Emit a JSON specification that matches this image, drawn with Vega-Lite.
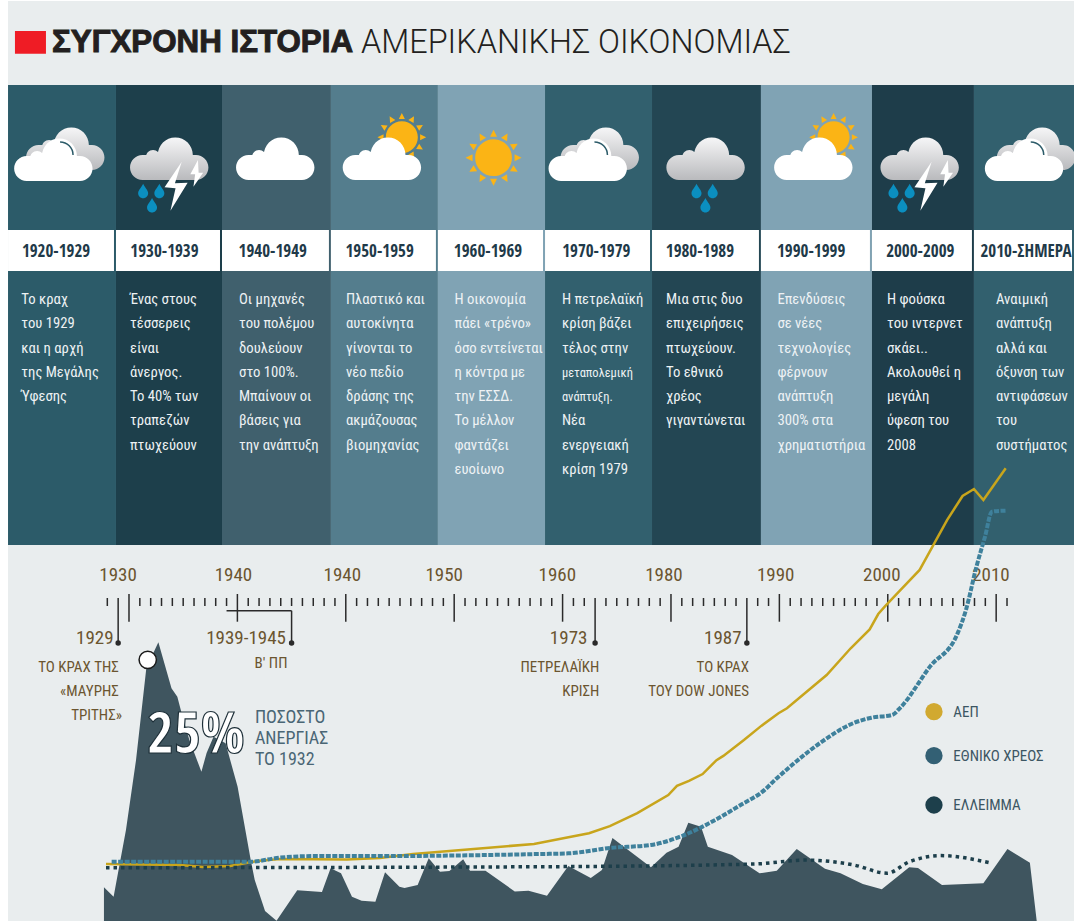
{
"$schema":"https://vega.github.io/schema/vega-lite/v6.json",
"width":1074,"height":921,"padding":0,"autosize":{"type":"none"},"background":"#ffffff",
"config":{"view":{"stroke":null},"axis":{"disable":true},"legend":{"disable":true},"text":{"font":"Roboto Condensed"}},
"resolve":{"scale":{"y":"independent","fill":"independent","color":"independent"}},
"datasets":{
"panels":[
{"from":1918.84,"to":1928.8,"label":"1920-1929","mid":1923.27,"d":"a"},
{"from":1928.8,"to":1938.58,"label":"1930-1939","mid":1933.27,"d":"b"},
{"from":1938.58,"to":1948.63,"label":"1940-1949","mid":1943.26,"d":"c"},
{"from":1948.63,"to":1958.5,"label":"1950-1959","mid":1953.12,"d":"e"},
{"from":1958.5,"to":1968.38,"label":"1960-1969","mid":1963.12,"d":"f"},
{"from":1968.38,"to":1978.25,"label":"1970-1979","mid":1973.11,"d":"g"},
{"from":1978.25,"to":1988.3,"label":"1980-1989","mid":1982.67,"d":"h"},
{"from":1988.3,"to":1998.54,"label":"1990-1999","mid":1992.93,"d":"i"},
{"from":1998.54,"to":2007.95,"label":"2000-2009","mid":2003.0,"d":"j"},
{"from":2007.95,"to":2017.18,"label":"2010-ΣΗΜΕΡΑ","mid":2012.75,"d":"k"}],
"notes":[
{"year":1920.07,"line":0,"t":"Το κραχ"},{"year":1920.07,"line":1,"t":"του 1929"},{"year":1920.07,"line":2,"t":"και η αρχή"},{"year":1920.07,"line":3,"t":"της Μεγάλης"},{"year":1920.07,"line":4,"t":"Ύφεσης"},
{"year":1930.09,"line":0,"t":"Ένας στους"},{"year":1930.09,"line":1,"t":"τέσσερεις"},{"year":1930.09,"line":2,"t":"είναι"},{"year":1930.09,"line":3,"t":"άνεργος."},{"year":1930.09,"line":4,"t":" Το 40% των"},{"year":1930.09,"line":5,"t":"τραπεζών"},{"year":1930.09,"line":6,"t":"πτωχεύουν"},
{"year":1940.15,"line":0,"t":"Οι μηχανές"},{"year":1940.15,"line":1,"t":"του πολέμου"},{"year":1940.15,"line":2,"t":"δουλεύουν"},{"year":1940.15,"line":3,"t":"στο 100%."},{"year":1940.15,"line":4,"t":"Μπαίνουν οι"},{"year":1940.15,"line":5,"t":"βάσεις για"},{"year":1940.15,"line":6,"t":"την ανάπτυξη"},
{"year":1950.02,"line":0,"t":"Πλαστικό και"},{"year":1950.02,"line":1,"t":"αυτοκίνητα"},{"year":1950.02,"line":2,"t":"γίνονται το"},{"year":1950.02,"line":3,"t":"νέο πεδίο"},{"year":1950.02,"line":4,"t":"δράσης της"},{"year":1950.02,"line":5,"t":"ακμάζουσας"},{"year":1950.02,"line":6,"t":"βιομηχανίας"},
{"year":1960.03,"line":0,"t":"Η οικονομία"},{"year":1960.03,"line":1,"t":"πάει «τρένο»"},{"year":1960.03,"line":2,"t":"όσο εντείνεται"},{"year":1960.03,"line":3,"t":"η κόντρα με"},{"year":1960.03,"line":4,"t":"την ΕΣΣΔ."},{"year":1960.03,"line":5,"t":"Το μέλλον"},{"year":1960.03,"line":6,"t":"φαντάζει"},{"year":1960.03,"line":7,"t":"ευοίωνο"},
{"year":1969.94,"line":0,"t":"Η πετρελαϊκή"},{"year":1969.94,"line":1,"t":"κρίση βάζει"},{"year":1969.94,"line":2,"t":"τέλος στην"},{"year":1969.94,"line":3,"t":"μεταπολεμική","small":true},{"year":1969.94,"line":4,"t":"ανάπτυξη.","small":true},{"year":1969.94,"line":5,"t":"Νέα"},{"year":1969.94,"line":6,"t":"ενεργειακή"},{"year":1969.94,"line":7,"t":"κρίση 1979"},
{"year":1979.54,"line":0,"t":"Μια στις δυο"},{"year":1979.54,"line":1,"t":"επιχειρήσεις"},{"year":1979.54,"line":2,"t":"πτωχεύουν."},{"year":1979.54,"line":3,"t":"Το εθνικό"},{"year":1979.54,"line":4,"t":"χρέος"},{"year":1979.54,"line":5,"t":"γιγαντώνεται"},
{"year":1989.82,"line":0,"t":"Επενδύσεις"},{"year":1989.82,"line":1,"t":"σε νέες"},{"year":1989.82,"line":2,"t":"τεχνολογίες"},{"year":1989.82,"line":3,"t":"φέρνουν"},{"year":1989.82,"line":4,"t":"ανάπτυξη"},{"year":1989.82,"line":5,"t":"300% στα"},{"year":1989.82,"line":6,"t":"χρηματιστήρια"},
{"year":1999.93,"line":0,"t":"Η φούσκα"},{"year":1999.93,"line":1,"t":"του ιντερνετ"},{"year":1999.93,"line":2,"t":"σκάει.."},{"year":1999.93,"line":3,"t":"Ακολουθεί η"},{"year":1999.93,"line":4,"t":"μεγάλη"},{"year":1999.93,"line":5,"t":"ύφεση του"},{"year":1999.93,"line":6,"t":"2008"},
{"year":2009.98,"line":0,"t":"Αναιμική"},{"year":2009.98,"line":1,"t":"ανάπτυξη"},{"year":2009.98,"line":2,"t":"αλλά και"},{"year":2009.98,"line":3,"t":"όξυνση των"},{"year":2009.98,"line":4,"t":"αντιφάσεων"},{"year":2009.98,"line":5,"t":"του"},{"year":2009.98,"line":6,"t":"συστήματος"}],
"ticks":[{"year":1928},{"year":1931},{"year":1932},{"year":1933},{"year":1934},{"year":1935},{"year":1936},{"year":1937},{"year":1938},{"year":1939},{"year":1941},{"year":1942},{"year":1943},{"year":1944},{"year":1945},{"year":1946},{"year":1947},{"year":1948},{"year":1949},{"year":1951},{"year":1952},{"year":1953},{"year":1954},{"year":1955},{"year":1956},{"year":1957},{"year":1958},{"year":1959},{"year":1961},{"year":1962},{"year":1963},{"year":1964},{"year":1965},{"year":1966},{"year":1967},{"year":1968},{"year":1969},{"year":1971},{"year":1972},{"year":1974},{"year":1975},{"year":1976},{"year":1977},{"year":1978},{"year":1979},{"year":1981},{"year":1982},{"year":1983},{"year":1984},{"year":1985},{"year":1986},{"year":1988},{"year":1989},{"year":1991},{"year":1992},{"year":1993},{"year":1994},{"year":1995},{"year":1996},{"year":1997},{"year":1998},{"year":1999},{"year":2001},{"year":2002},{"year":2003},{"year":2004},{"year":2005},{"year":2006},{"year":2007},{"year":2008},{"year":2009},{"year":2011}],
"decades":[{"year":1930},{"year":1940},{"year":1950},{"year":1960},{"year":1970},{"year":1980},{"year":1990},{"year":2000},{"year":2010}],
"axisLabels":[{"year":1928.99,"t":"1930"},{"year":1939.64,"t":"1940"},{"year":1949.68,"t":"1940"},{"year":1959.08,"t":"1950"},{"year":1969.52,"t":"1960"},{"year":1979.35,"t":"1980"},{"year":1989.66,"t":"1990"},{"year":1999.45,"t":"2000"},{"year":2009.52,"t":"2010"}],
"eventYears":[{"year":1928.58,"t":"1929"},{"year":1944.48,"t":"1939-1945"},{"year":1972.29,"t":"1973"},{"year":1986.51,"t":"1987"}],
"events":[{"year":1929.06,"line":1,"t":"ΤΟ ΚΡΑΧ ΤΗΣ"},{"year":1929.06,"line":2,"t":"«ΜΑΥΡΗΣ"},{"year":1929.35,"line":3,"t":"ΤΡΙΤΗΣ»"},{"year":1944.62,"line":0.84,"t":"Β' ΠΠ"},{"year":1973.39,"line":1,"t":"ΠΕΤΡΕΛΑΪΚΗ"},{"year":1973.39,"line":2,"t":"ΚΡΙΣΗ"},{"year":1987.2,"line":1,"t":"ΤΟ ΚΡΑΧ"},{"year":1987.2,"line":2,"t":"ΤΟΥ DOW JONES"}],
"rate":[{"year":1927.69,"v":3.02},{"year":1928.58,"v":2.18},{"year":1929.72,"v":8.15},{"year":1930.65,"v":14.43},{"year":1931.6,"v":22.67},{"year":1932.71,"v":24.97},{"year":1933.92,"v":20.85},{"year":1934.46,"v":20.1},{"year":1934.94,"v":18.31},{"year":1935.57,"v":16.22},{"year":1936.68,"v":13.38},{"year":1937.16,"v":15.05},{"year":1937.8,"v":16.51},{"year":1938.91,"v":15.92},{"year":1940.02,"v":12.03},{"year":1941.23,"v":5.47},{"year":1941.6,"v":3.67},{"year":1942.55,"v":0.9},{"year":1943.61,"v":0.03},{"year":1945.52,"v":2.75},{"year":1947.8,"v":2.6},{"year":1948.6,"v":4.72},{"year":1949.56,"v":4.27},{"year":1950.57,"v":2.18},{"year":1951.46,"v":1.82},{"year":1952.73,"v":1.73},{"year":1953.62,"v":4.36},{"year":1954.95,"v":3.07},{"year":1955.42,"v":2.96},{"year":1956.63,"v":3.23},{"year":1957.65,"v":5.62},{"year":1958.69,"v":4.42},{"year":1959.56,"v":4.48},{"year":1960.83,"v":5.53},{"year":1961.46,"v":4.5},{"year":1962.89,"v":4.5},{"year":1965.59,"v":2.65},{"year":1966.86,"v":2.72},{"year":1968.56,"v":2.27},{"year":1970.53,"v":4.93},{"year":1972.6,"v":3.85},{"year":1973.63,"v":4.57},{"year":1974.6,"v":7.44},{"year":1978.15,"v":4.81},{"year":1979.59,"v":6.12},{"year":1980.7,"v":6.66},{"year":1981.6,"v":8.81},{"year":1982.77,"v":8.45},{"year":1983.4,"v":6.66},{"year":1985.63,"v":5.91},{"year":1988.17,"v":4.27},{"year":1989.76,"v":4.51},{"year":1991.6,"v":6.45},{"year":1994.21,"v":4.69},{"year":1995.64,"v":4.27},{"year":1997.7,"v":3.32},{"year":1999.45,"v":2.84},{"year":2001.98,"v":4.81},{"year":2002.79,"v":4.75},{"year":2005,"v":3.23},{"year":2008.82,"v":3.38},{"year":2011.04,"v":6.45},{"year":2013.11,"v":5.22},{"year":2013.74,"v":0}],
"gdp":[{"year":1927.88,"v":0.16},{"year":1934.7,"v":0.12},{"year":1936.83,"v":0.04},{"year":1939.32,"v":0.08},{"year":1941.81,"v":0.28},{"year":1943.93,"v":0.36},{"year":1950.11,"v":0.34},{"year":1953.15,"v":0.4},{"year":1956.2,"v":0.56},{"year":1967.36,"v":0.97},{"year":1970.54,"v":1.24},{"year":1972.44,"v":1.4},{"year":1974.36,"v":1.69},{"year":1976.89,"v":2.21},{"year":1979.75,"v":2.94},{"year":1980.55,"v":3.31},{"year":1981.66,"v":3.51},{"year":1982.92,"v":3.79},{"year":1984.2,"v":4.35},{"year":1984.83,"v":4.52},{"year":1986.73,"v":5.16},{"year":1988.33,"v":5.73},{"year":1989.92,"v":6.24},{"year":1990.7,"v":6.44},{"year":1994.36,"v":7.78},{"year":1996.58,"v":8.86},{"year":1998.33,"v":9.62},{"year":1999.12,"v":10.24},{"year":1999.76,"v":10.56},{"year":2001.03,"v":11.14},{"year":2002.94,"v":12.02},{"year":2004.2,"v":13.02},{"year":2005.47,"v":14.03},{"year":2006.9,"v":15.0},{"year":2007.95,"v":15.28},{"year":2008.82,"v":14.84},{"year":2010.88,"v":16.12}],
"debt":[{"year":1928.4,"v":0.25},{"year":1941.16,"v":0.25},{"year":1943.93,"v":0.42},{"year":1946.97,"v":0.48},{"year":1953.15,"v":0.48},{"year":1967.36,"v":0.56},{"year":1970.5,"v":0.59},{"year":1974.37,"v":0.81},{"year":1978.15,"v":0.93},{"year":1981.01,"v":1.29},{"year":1982.92,"v":1.67},{"year":1986.42,"v":2.54},{"year":1988.64,"v":3.15},{"year":1989.59,"v":3.55},{"year":1991.16,"v":4.15},{"year":1993.75,"v":5.04},{"year":1996.88,"v":5.85},{"year":1998.5,"v":6.06},{"year":2000.39,"v":6.17},{"year":2001.19,"v":6.48},{"year":2003.89,"v":8.12},{"year":2006.44,"v":9.46},{"year":2007.21,"v":10.4},{"year":2008.18,"v":12.15},{"year":2008.97,"v":13.36},{"year":2009.61,"v":14.37},{"year":2010.88,"v":14.41}],
"deficit":[{"year":1927.88,"v":0.01},{"year":1967.36,"v":0.05},{"year":1987.66,"v":0.16},{"year":1992.45,"v":0.32},{"year":1996.88,"v":0.12},{"year":1999.93,"v":-0.21},{"year":2001.98,"v":0.25},{"year":2004.84,"v":0.5},{"year":2009.43,"v":0.21}],
"legend":[{"rank":0,"series":"ΑΕΠ"},{"rank":1,"series":"ΕΘΝΙΚΟ ΧΡΕΟΣ"},{"rank":2,"series":"ΕΛΛΕΙΜΜΑ"}]
},
"layer":[
{"layer":[
{"data":{"values":[{"from":1918.84,"to":2017.18}]},"mark":{"type":"rect","fill":"#e9edee"},"encoding":{"x":{"field":"from","type":"quantitative","scale":{"domain":[1918.1,2017.18]}},"x2":{"field":"to"},"y":{"datum":1,"type":"quantitative","scale":{"domain":[921,0]}},"y2":{"datum":921}}},
{"data":{"values":[{"from":1919.48,"to":1922.34}]},"mark":{"type":"rect","fill":"#ef1c25"},"encoding":{"x":{"field":"from","type":"quantitative","scale":{"domain":[1918.1,2017.18]}},"x2":{"field":"to"},"y":{"datum":31,"type":"quantitative","scale":{"domain":[921,0]}},"y2":{"datum":53.7}}},
{"data":{"values":[{"year":1922.9,"t":"ΣΥΓΧΡΟΝΗ ΙΣΤΟΡΙΑ"}]},"mark":{"type":"text","align":"left","baseline":"middle","font":"Liberation Sans","fontWeight":"bold","fontSize":31.3,"fill":"#231f20","stroke":"#231f20","strokeWidth":1},"encoding":{"x":{"field":"year","type":"quantitative","scale":{"domain":[1918.1,2017.18]}},"y":{"datum":43,"type":"quantitative","scale":{"domain":[921,0]}},"text":{"field":"t"}}},
{"data":{"values":[{"year":1951.4,"t":"ΑΜΕΡΙΚΑΝΙΚΗΣ ΟΙΚΟΝΟΜΙΑΣ"}]},"mark":{"type":"text","align":"left","baseline":"middle","font":"Roboto","fontWeight":300,"fontSize":32.4,"fill":"#231f20"},"encoding":{"x":{"field":"year","type":"quantitative","scale":{"domain":[1918.1,2017.18]}},"y":{"datum":43,"type":"quantitative","scale":{"domain":[921,0]}},"text":{"field":"t"}}},
{"data":{"name":"panels"},"mark":{"type":"rect"},"encoding":{"x":{"field":"from","type":"quantitative","scale":{"domain":[1918.1,2017.18]}},"x2":{"field":"to"},"y":{"datum":85,"type":"quantitative","scale":{"domain":[921,0]}},"y2":{"datum":545},"fill":{"field":"d","type":"nominal","scale":{"domain":["a","b","c","e","f","g","h","i","j","k"],"range":["#2c5b69","#1d3f4b","#40606d","#547d8d","#80a3b4","#32606e","#234653","#80a3b4","#1e3d4a","#32606e"]}}}},
{"data":{"name":"panels"},"mark":{"type":"rect","fill":"#ffffff","x2Offset":-2},"encoding":{"x":{"field":"from","type":"quantitative","scale":{"domain":[1918.1,2017.18]}},"x2":{"field":"to"},"y":{"datum":230,"type":"quantitative","scale":{"domain":[921,0]}},"y2":{"datum":271}}},
{"data":{"name":"panels"},"mark":{"type":"text","align":"center","baseline":"middle","font":"Open Sans Condensed","fontWeight":"bold","fontSize":17,"fill":"#1f3a49"},"encoding":{"x":{"field":"mid","type":"quantitative","scale":{"domain":[1918.1,2017.18]}},"y":{"datum":252,"type":"quantitative","scale":{"domain":[921,0]}},"text":{"field":"label"}}},
{"data":{"values":[{"year":1924.13},{"year":1973.44},{"year":2013.69}]},"mark":{"type":"point","filled":true,"opacity":1,"size":4,"shape":"M-26.8,21 A12.5,12.5 0 0 1 -26.8,-4 L26.6,-4 A12.5,12.5 0 0 1 26.6,21 Z M-11.5,-4 A17.5,17.5 0 1 1 23.5,-4 Z M-23.3,-2 A7,7 0 1 1 -9.3,-2 Z M-38.4,8 A7,7 0 1 1 -24.4,8 Z","fill":{"gradient":"linear","x1":0,"y1":0,"x2":0,"y2":1,"stops":[{"offset":0,"color":"#f6f6f7"},{"offset":1,"color":"#b9babd"}]}},"encoding":{"x":{"field":"year","type":"quantitative","scale":{"domain":[1918.1,2017.18]}},"y":{"datum":149,"type":"quantitative","scale":{"domain":[921,0]}}}},
{"data":{"values":[{"year":1933.72},{"year":1983.2},{"year":2002.95}]},"mark":{"type":"point","filled":true,"opacity":1,"size":4,"shape":"M-26.8,21 A12.5,12.5 0 0 1 -26.8,-4 L26.6,-4 A12.5,12.5 0 0 1 26.6,21 Z M-11.5,-4 A17.5,17.5 0 1 1 23.5,-4 Z M-23.3,-2 A7,7 0 1 1 -9.3,-2 Z","fill":{"gradient":"linear","x1":0,"y1":0,"x2":0,"y2":1,"stops":[{"offset":0,"color":"#f6f6f7"},{"offset":1,"color":"#b9babd"}]}},"encoding":{"x":{"field":"year","type":"quantitative","scale":{"domain":[1918.1,2017.18]}},"y":{"datum":159,"type":"quantitative","scale":{"domain":[921,0]}}}},
{"data":{"values":[{"year":1955.17},{"year":1995.0}]},"mark":{"type":"point","filled":true,"opacity":1,"size":3.03,"fill":"#fbb415","shape":"M-18.4,0 A18.4,18.4 0 1 1 18.4,0 A18.4,18.4 0 1 1 -18.4,0 Z M-3.5,-21 L0,-28 L3.5,-21 Z M7.47,-19.94 L14,-24.2 L13.53,-16.44 Z M16.44,-13.53 L24.2,-14 L19.94,-7.47 Z M21,-3.5 L28,0 L21,3.5 Z M19.94,7.47 L24.2,14 L16.44,13.53 Z M13.53,16.44 L14,24.2 L7.47,19.94 Z M3.5,21 L0,28 L-3.5,21 Z M-7.47,19.94 L-14,24.2 L-13.53,16.44 Z M-16.44,13.53 L-24.2,14 L-19.94,7.47 Z M-21,3.5 L-28,0 L-21,-3.5 Z M-19.94,-7.47 L-24.2,-14 L-16.44,-13.53 Z M-13.53,-16.44 L-14,-24.2 L-7.47,-19.94 Z"},"encoding":{"x":{"field":"year","type":"quantitative","scale":{"domain":[1918.1,2017.18]}},"y":{"datum":137.3,"type":"quantitative","scale":{"domain":[921,0]}}}},
{"data":{"values":[{"year":1963.63}]},"mark":{"type":"point","filled":true,"opacity":1,"size":4,"fill":"#fbb415","shape":"M-18.4,0 A18.4,18.4 0 1 1 18.4,0 A18.4,18.4 0 1 1 -18.4,0 Z M-3.5,-21 L0,-28 L3.5,-21 Z M7.47,-19.94 L14,-24.2 L13.53,-16.44 Z M16.44,-13.53 L24.2,-14 L19.94,-7.47 Z M21,-3.5 L28,0 L21,3.5 Z M19.94,7.47 L24.2,14 L16.44,13.53 Z M13.53,16.44 L14,24.2 L7.47,19.94 Z M3.5,21 L0,28 L-3.5,21 Z M-7.47,19.94 L-14,24.2 L-13.53,16.44 Z M-16.44,13.53 L-24.2,14 L-19.94,7.47 Z M-21,3.5 L-28,0 L-21,-3.5 Z M-19.94,-7.47 L-24.2,-14 L-16.44,-13.53 Z M-13.53,-16.44 L-14,-24.2 L-7.47,-19.94 Z"},"encoding":{"x":{"field":"year","type":"quantitative","scale":{"domain":[1918.1,2017.18]}},"y":{"datum":157.7,"type":"quantitative","scale":{"domain":[921,0]}}}},
{"data":{"values":[{"year":1943.5},{"year":1953.34},{"year":1993.14}]},"mark":{"type":"point","filled":true,"opacity":1,"size":4,"fill":"#ffffff","shape":"M-26.8,21 A12.5,12.5 0 0 1 -26.8,-4 L26.6,-4 A12.5,12.5 0 0 1 26.6,21 Z M-11.5,-4 A17.5,17.5 0 1 1 23.5,-4 Z M-23.3,-2 A7,7 0 1 1 -9.3,-2 Z"},"encoding":{"x":{"field":"year","type":"quantitative","scale":{"domain":[1918.1,2017.18]}},"y":{"datum":159,"type":"quantitative","scale":{"domain":[921,0]}}}},
{"data":{"values":[{"year":1923.03},{"year":1972.33},{"year":2012.58}]},"mark":{"type":"point","filled":true,"opacity":1,"size":4,"fill":"#ffffff","shape":"M-26.8,21 A12.5,12.5 0 0 1 -26.8,-4 L26.6,-4 A12.5,12.5 0 0 1 26.6,21 Z M-11.5,-4 A17.5,17.5 0 1 1 23.5,-4 Z M-23.3,-2 A7,7 0 1 1 -9.3,-2 Z"},"encoding":{"x":{"field":"year","type":"quantitative","scale":{"domain":[1918.1,2017.18]}},"y":{"datum":160,"type":"quantitative","scale":{"domain":[921,0]}}}},
{"data":{"values":[{"year":1923.64},{"year":1972.94},{"year":2013.19}]},"mark":{"type":"point","filled":false,"opacity":1,"size":4,"stroke":"#2c5b69","strokeWidth":1.5,"shape":"M0,-13 A13,13 0 0 1 13,0"},"encoding":{"x":{"field":"year","type":"quantitative","scale":{"domain":[1918.1,2017.18]}},"y":{"datum":155,"type":"quantitative","scale":{"domain":[921,0]}}}},
{"data":{"values":[{"year":1932.09},{"year":1983.14},{"year":2001.31}]},"mark":{"type":"point","filled":true,"opacity":1,"size":4,"fill":"#0b8fc0","shape":"M-8.5,-13.3 c1.5,3.5 5,6.5 5,9.5 a5,5 0 1 1 -10,0 c0,-3 3.5,-6 5,-9.5 z M7.7,-13.3 c1.5,3.5 5,6.5 5,9.5 a5,5 0 1 1 -10,0 c0,-3 3.5,-6 5,-9.5 z M0.4,1 c1.5,3.5 5,6.5 5,9.5 a5,5 0 1 1 -10,0 c0,-3 3.5,-6 5,-9.5 z"},"encoding":{"x":{"field":"year","type":"quantitative","scale":{"domain":[1918.1,2017.18]}},"y":{"datum":197,"type":"quantitative","scale":{"domain":[921,0]}}}},
{"data":{"values":[{"year":1934.7},{"year":2003.88}]},"mark":{"type":"point","filled":true,"opacity":1,"size":4,"fill":"#ffffff","shape":"M1.8,-23.3 L-15.4,2.3 L-4.4,3.3 L-9.5,25.7 L7.7,-2.3 L-5,-1.7 Z M18,-25 L10.4,-10.7 L15.2,-10.7 L13.5,1.7 L23.2,-12.3 L18.7,-12.3 Z"},"encoding":{"x":{"field":"year","type":"quantitative","scale":{"domain":[1918.1,2017.18]}},"y":{"datum":185,"type":"quantitative","scale":{"domain":[921,0]}}}},
{"data":{"name":"axisLabels"},"mark":{"type":"text","align":"center","baseline":"middle","fontSize":19,"fill":"#6b5530"},"encoding":{"x":{"field":"year","type":"quantitative","scale":{"domain":[1918.1,2017.18]}},"y":{"datum":575,"type":"quantitative","scale":{"domain":[921,0]}},"text":{"field":"t"}}},
{"data":{"name":"ticks"},"mark":{"type":"rule","stroke":"#2a2a2a","strokeWidth":1.5},"encoding":{"x":{"field":"year","type":"quantitative","scale":{"domain":[1918.1,2017.18]}},"y":{"datum":598,"type":"quantitative","scale":{"domain":[921,0]}},"y2":{"datum":606}}},
{"data":{"name":"decades"},"mark":{"type":"rule","stroke":"#2a2a2a","strokeWidth":1.5},"encoding":{"x":{"field":"year","type":"quantitative","scale":{"domain":[1918.1,2017.18]}},"y":{"datum":594,"type":"quantitative","scale":{"domain":[921,0]}},"y2":{"datum":621.7}}},
{"data":{"values":[{"year":1929},{"year":1973},{"year":1987}]},"mark":{"type":"rule","stroke":"#2a2a2a","strokeWidth":1.5},"encoding":{"x":{"field":"year","type":"quantitative","scale":{"domain":[1918.1,2017.18]}},"y":{"datum":598,"type":"quantitative","scale":{"domain":[921,0]}},"y2":{"datum":643}}},
{"data":{"values":[{"year":1945}]},"mark":{"type":"rule","stroke":"#2a2a2a","strokeWidth":1.5},"encoding":{"x":{"field":"year","type":"quantitative","scale":{"domain":[1918.1,2017.18]}},"y":{"datum":610.7,"type":"quantitative","scale":{"domain":[921,0]}},"y2":{"datum":643}}},
{"data":{"values":[{"from":1939,"to":1945}]},"mark":{"type":"rule","stroke":"#2a2a2a","strokeWidth":1.5},"encoding":{"x":{"field":"from","type":"quantitative","scale":{"domain":[1918.1,2017.18]}},"x2":{"field":"to"},"y":{"datum":610.7,"type":"quantitative","scale":{"domain":[921,0]}}}},
{"data":{"values":[{"year":1929},{"year":1945},{"year":1973},{"year":1987}]},"mark":{"type":"point","filled":true,"opacity":1,"size":30,"fill":"#2a2a2a"},"encoding":{"x":{"field":"year","type":"quantitative","scale":{"domain":[1918.1,2017.18]}},"y":{"datum":643,"type":"quantitative","scale":{"domain":[921,0]}}}},
{"data":{"name":"eventYears"},"mark":{"type":"text","align":"right","baseline":"middle","fontSize":19,"fill":"#6b5530"},"encoding":{"x":{"field":"year","type":"quantitative","scale":{"domain":[1918.1,2017.18]}},"y":{"datum":638,"type":"quantitative","scale":{"domain":[921,0]}},"text":{"field":"t"}}}
]},
{"layer":[
{"data":{"name":"notes"},"transform":[{"filter":"!datum.small"}],"mark":{"type":"text","align":"left","baseline":"middle","fontSize":14.7,"fill":"#eef2f4"},"encoding":{"x":{"field":"year","type":"quantitative","scale":{"domain":[1918.1,2017.18]}},"y":{"field":"line","type":"quantitative","scale":{"domain":[0,7],"range":[300,470]}},"text":{"field":"t"}}},
{"data":{"name":"notes"},"transform":[{"filter":"datum.small"}],"mark":{"type":"text","align":"left","baseline":"middle","fontSize":12.5,"fill":"#eef2f4"},"encoding":{"x":{"field":"year","type":"quantitative","scale":{"domain":[1918.1,2017.18]}},"y":{"field":"line","type":"quantitative","scale":{"domain":[0,7],"range":[300,470]}},"text":{"field":"t"}}}
]},
{"data":{"name":"events"},"mark":{"type":"text","align":"right","baseline":"middle","fontSize":15,"fill":"#6b5530"},"encoding":{"x":{"field":"year","type":"quantitative","scale":{"domain":[1918.1,2017.18]}},"y":{"field":"line","type":"quantitative","scale":{"domain":[1,3],"range":[666.7,715]}},"text":{"field":"t"}}},
{"layer":[
{"data":{"name":"rate"},"mark":{"type":"area","fill":"#3f555f","opacity":1,"interpolate":"linear"},"encoding":{"x":{"field":"year","type":"quantitative","scale":{"domain":[1918.1,2017.18]}},"y":{"field":"v","type":"quantitative","scale":{"domain":[0,82.53]},"stack":null}}},
{"data":{"values":[{"year":1931.73,"v":23.4}]},"mark":{"type":"point","filled":true,"opacity":1,"size":300,"fill":"#ffffff","stroke":"#1a1a1a","strokeWidth":1.5},"encoding":{"x":{"field":"year","type":"quantitative","scale":{"domain":[1918.1,2017.18]}},"y":{"field":"v","type":"quantitative","scale":{"domain":[0,82.53]}}}}
]},
{"layer":[
{"data":{"name":"gdp"},"mark":{"type":"line","stroke":"#c8a51c","strokeWidth":2.5,"interpolate":"linear"},"encoding":{"x":{"field":"year","type":"quantitative","scale":{"domain":[1918.1,2017.18]}},"y":{"field":"v","type":"quantitative","scale":{"domain":[-2.137,35]}}}},
{"data":{"name":"debt"},"mark":{"type":"line","stroke":"#3f819c","strokeWidth":4,"strokeDash":[5,1.5],"interpolate":"monotone"},"encoding":{"x":{"field":"year","type":"quantitative","scale":{"domain":[1918.1,2017.18]}},"y":{"field":"v","type":"quantitative","scale":{"domain":[-2.137,35]}}}},
{"data":{"name":"deficit"},"mark":{"type":"line","stroke":"#1d3f4b","strokeWidth":3.5,"strokeDash":[3.5,4],"interpolate":"monotone"},"encoding":{"x":{"field":"year","type":"quantitative","scale":{"domain":[1918.1,2017.18]}},"y":{"field":"v","type":"quantitative","scale":{"domain":[-2.137,35]}}}}
]},
{"layer":[
{"data":{"values":[{"year":1936.18,"t":"25%"}]},"mark":{"type":"text","align":"center","baseline":"middle","font":"Open Sans Condensed","fontWeight":"bold","fontSize":58,"fill":"#ffffff","stroke":"#1d2f38","strokeWidth":1.2},"encoding":{"x":{"field":"year","type":"quantitative","scale":{"domain":[1918.1,2017.18]}},"y":{"datum":736,"type":"quantitative","scale":{"domain":[921,0]}},"text":{"field":"t"}}},
{"data":{"values":[{"year":1941.62,"t":"ΠΟΣΟΣΤΟ"}]},"mark":{"type":"text","align":"left","baseline":"middle","fontSize":18,"fill":"#4a6675"},"encoding":{"x":{"field":"year","type":"quantitative","scale":{"domain":[1918.1,2017.18]}},"y":{"datum":717.7,"type":"quantitative","scale":{"domain":[921,0]}},"text":{"field":"t"}}},
{"data":{"values":[{"year":1941.62,"t":"ΑΝΕΡΓΙΑΣ"}]},"mark":{"type":"text","align":"left","baseline":"middle","fontSize":18,"fill":"#4a6675"},"encoding":{"x":{"field":"year","type":"quantitative","scale":{"domain":[1918.1,2017.18]}},"y":{"datum":739,"type":"quantitative","scale":{"domain":[921,0]}},"text":{"field":"t"}}},
{"data":{"values":[{"year":1941.62,"t":"ΤΟ 1932"}]},"mark":{"type":"text","align":"left","baseline":"middle","fontSize":18,"fill":"#4a6675"},"encoding":{"x":{"field":"year","type":"quantitative","scale":{"domain":[1918.1,2017.18]}},"y":{"datum":760,"type":"quantitative","scale":{"domain":[921,0]}},"text":{"field":"t"}}}
]},
{"layer":[
{"data":{"name":"legend"},"mark":{"type":"point","filled":true,"opacity":1,"size":300},"encoding":{"x":{"datum":2004.26,"type":"quantitative","scale":{"domain":[1918.1,2017.18]}},"y":{"field":"rank","type":"quantitative","scale":{"domain":[0,1,2],"range":[711.7,755.7,805]}},"color":{"field":"series","type":"nominal","scale":{"domain":["ΑΕΠ","ΕΘΝΙΚΟ ΧΡΕΟΣ","ΕΛΛΕΙΜΜΑ"],"range":["#d1a930","#336074","#1d3f4b"]}}}},
{"data":{"name":"legend"},"mark":{"type":"text","align":"left","baseline":"middle","fontSize":15,"fill":"#3c5663"},"encoding":{"x":{"datum":2006.05,"type":"quantitative","scale":{"domain":[1918.1,2017.18]}},"y":{"field":"rank","type":"quantitative","scale":{"domain":[0,1,2],"range":[711.7,755.7,805]}},"text":{"field":"series"}}}
]}
]
}
